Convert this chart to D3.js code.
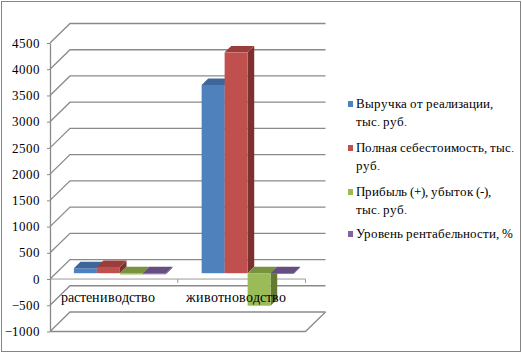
<!DOCTYPE html>
<html>
<head>
<meta charset="utf-8">
<script src="https://cdn.jsdelivr.net/npm/d3@7"></script>
<style>
  @font-face { font-family: "ChartSerif"; src: local("Liberation Serif"), local("LiberationSerif"), local("Liberation Serif Regular"); }
</style>
</head>
<body style="margin:0;background:#fff">
<svg id="fig" width="522" height="353" style="display:block"></svg>
<script>
// ---- data ----
const categories = ["растениводство", "животноводство"];
const seriesNames = [
  "Выручка от реализации, тыс. руб.",
  "Полная себестоимость, тыс. руб.",
  "Прибыль (+), убыток (-), тыс. руб.",
  "Уровень рентабельности, %"
];
const revenue = [95, 3590];
const fullCost = [120, 4210];
const profit = [-25, -620];
const profitability = [-21, -15];
const yTicks = [-1000, -500, 0, 500, 1000, 1500, 2000, 2500, 3000, 3500, 4000, 4500];

const seriesValues = [revenue, fullCost, profit, profitability];
const frontColors = ["#4F81BD", "#C0504D", "#9BBB59", "#8064A2"];
const topColors   = ["#3E669A", "#9B3E3B", "#78923F", "#654E82"];
const sideColors  = ["#385D8A", "#7D312F", "#627A32", "#574370"];

const fontList = ["ChartSerif", "Liberation Serif", "Tinos", "Times New Roman"];
function serif(sel, size) {
  sel.style("font-family", fontList.map(f => `"${f}"`).join(", ") + ", serif").style("font-size", size + "px");
  return sel;
}

// ---- layout ----
const svg = d3.select("#fig");
svg.append("rect").attr("x", 1.5).attr("y", 1.5).attr("width", 519).attr("height", 350)
  .attr("fill", "#fff").attr("stroke", "#858585").attr("stroke-width", 1);

const plotLeft = 50, plotRight = 305.5;
const depthX = 20, depthY = -19.5;
const barF0 = 0.3, barF1 = 0.63;

const y = d3.scaleLinear().domain([-1000, 4500]).range([331.5, 43]);
const x = d3.scaleBand().domain(categories).range([plotLeft, plotRight]).paddingInner(0.28).paddingOuter(0.14);
const xs = d3.scaleBand().domain(d3.range(seriesNames.length)).range([0, x.bandwidth()]).padding(0);

const grid = svg.append("g");
yTicks.forEach(t => {
  const yf = y(t);
  grid.append("path")
    .attr("d", `M${plotLeft},${yf}L${plotLeft + depthX},${yf + depthY}L${plotRight + depthX},${yf + depthY}`)
    .attr("fill", "none").attr("stroke", "#8a8a8a").attr("stroke-width", 1.3);
});
const yMin = y(-1000);
grid.append("path")
  .attr("d", `M${plotLeft},${yMin}L${plotRight},${yMin}L${plotRight + depthX},${yMin + depthY}`)
  .attr("fill", "none").attr("stroke", "#8a8a8a").attr("stroke-width", 1.3);

const y0 = y(0);
grid.append("path")
  .attr("d", `M${plotLeft},${y0}L${plotRight},${y0}`)
  .attr("fill", "none").attr("stroke", "#9a9a9a").attr("stroke-width", 1);
categories.forEach(c => {
  const xb = x(c) - x.step() * x.paddingInner() / 2 + x.step();
  grid.append("line").attr("x1", xb).attr("x2", xb).attr("y1", y0).attr("y2", y0 + 4)
    .attr("stroke", "#9a9a9a").attr("stroke-width", 1);
});

const yAxis = d3.axisLeft(y).tickValues(yTicks).tickFormat(d3.format("d"))
  .tickSize(3).tickSizeOuter(0).tickPadding(7);
const ga = svg.append("g").attr("transform", `translate(${plotLeft},0)`).call(yAxis);
ga.select(".domain").attr("stroke", "#8a8a8a").attr("stroke-width", 1.3);
ga.selectAll(".tick line").attr("stroke", "#8a8a8a");
serif(ga.selectAll(".tick text").attr("fill", "#000"), 13);

const bars = svg.append("g");
const bx = depthX * barF0, by = depthY * barF0;
const ddx = depthX * (barF1 - barF0), ddy = depthY * (barF1 - barF0);
categories.forEach((c, ci) => {
  seriesValues.forEach((vals, si) => {
    const v = vals[ci];
    const xl = x(c) + xs(si) + bx;
    const xr = xl + xs.bandwidth();
    const yz = y(0) + by;
    const yv = y(v) + by;
    const yTop = Math.min(yz, yv), yBot = Math.max(yz, yv);
    const yTopFace = v >= 0 ? yv : yz;
    bars.append("path")
      .attr("d", `M${xr},${yTop}L${xr + ddx},${yTop + ddy}L${xr + ddx},${yBot + ddy}L${xr},${yBot}Z`)
      .attr("fill", sideColors[si]);
    bars.append("path")
      .attr("d", `M${xl},${yTopFace}L${xl + ddx},${yTopFace + ddy}L${xr + ddx},${yTopFace + ddy}L${xr},${yTopFace}Z`)
      .attr("fill", topColors[si]);
    bars.append("rect").attr("x", xl).attr("y", yTop).attr("width", xr - xl).attr("height", Math.max(0.8, yBot - yTop))
      .attr("fill", frontColors[si]);
  });
});

serif(svg.append("g").selectAll("text").data(categories).join("text")
  .attr("x", d => x(d) + x.bandwidth() / 2 - 6)
  .attr("y", 302)
  .attr("text-anchor", "middle")
  .text(d => d), 14);

const legend = svg.append("g").attr("transform", "translate(348,0)");
const legendTop = [108, 152, 196, 238];
const maxW = 160;
seriesNames.forEach((name, i) => {
  const g = legend.append("g");
  g.append("rect").attr("x", 0).attr("y", legendTop[i] - 7).attr("width", 5).attr("height", 6)
    .attr("fill", frontColors[i]);
  const t = serif(g.append("text").attr("x", 8).attr("y", legendTop[i]), 13);
  const words = name.split(" ");
  let line = [];
  let ts = t.append("tspan").attr("x", 8).attr("y", legendTop[i]);
  let lineNo = 0;
  words.forEach(w => {
    line.push(w);
    ts.text(line.join(" "));
    if (ts.node().getComputedTextLength() > maxW && line.length > 1) {
      line.pop();
      ts.text(line.join(" "));
      line = [w];
      lineNo++;
      ts = t.append("tspan").attr("x", 8).attr("y", legendTop[i] + lineNo * 17.5).text(w);
    }
  });
});
</script>
</body>
</html>
